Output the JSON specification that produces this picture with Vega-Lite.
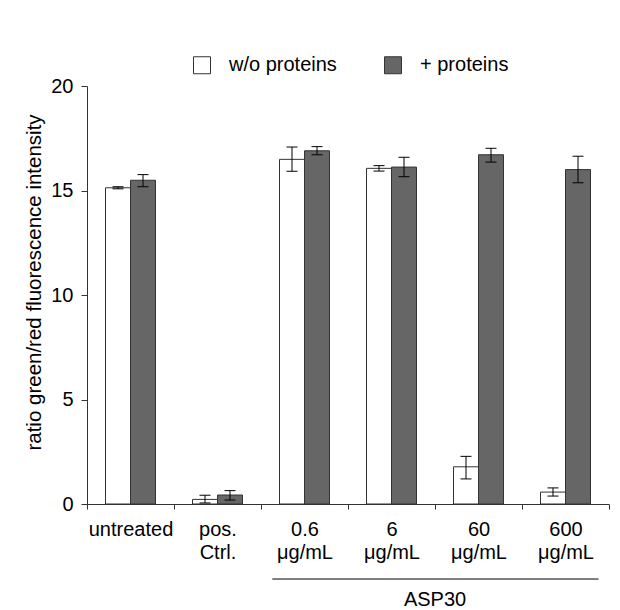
{
  "$schema": "https://vega.github.io/schema/vega-lite/v6.json",
  "autosize": {"type": "none"},
  "padding": {"left": 87, "top": 86, "right": 11, "bottom": 106},
  "width": 522,
  "height": 418,
  "background": "white",
  "config": {"view": {"stroke": null}, "font": "Liberation Sans"},
  "data": {
    "values": [
      {"cat": "untreated", "group": "w/o proteins", "value": 15.13, "lo": 15.08, "hi": 15.18},
      {"cat": "untreated", "group": "+ proteins", "value": 15.49, "lo": 15.18, "hi": 15.76},
      {"cat": "pos. Ctrl.", "group": "w/o proteins", "value": 0.22, "lo": 0.05, "hi": 0.42},
      {"cat": "pos. Ctrl.", "group": "+ proteins", "value": 0.43, "lo": 0.19, "hi": 0.64},
      {"cat": "0.6 μg/mL", "group": "w/o proteins", "value": 16.49, "lo": 15.92, "hi": 17.08},
      {"cat": "0.6 μg/mL", "group": "+ proteins", "value": 16.9, "lo": 16.71, "hi": 17.1},
      {"cat": "6 μg/mL", "group": "w/o proteins", "value": 16.06, "lo": 15.93, "hi": 16.19},
      {"cat": "6 μg/mL", "group": "+ proteins", "value": 16.12, "lo": 15.66, "hi": 16.59},
      {"cat": "60 μg/mL", "group": "w/o proteins", "value": 1.78, "lo": 1.2, "hi": 2.28},
      {"cat": "60 μg/mL", "group": "+ proteins", "value": 16.71, "lo": 16.36, "hi": 17.02},
      {"cat": "600 μg/mL", "group": "w/o proteins", "value": 0.57, "lo": 0.38, "hi": 0.77},
      {"cat": "600 μg/mL", "group": "+ proteins", "value": 16.0, "lo": 15.37, "hi": 16.64}
    ]
  },
  "layer": [
    {
      "mark": {"type": "bar", "stroke": "#333333", "strokeWidth": 1},
      "encoding": {
        "x": {
          "field": "cat", "type": "nominal", "title": null,
          "scale": {"domain": ["untreated", "pos. Ctrl.", "0.6 μg/mL", "6 μg/mL", "60 μg/mL", "600 μg/mL"], "paddingInner": 0, "paddingOuter": 0},
          "axis": {
            "title": null, "labelAngle": 0, "labelExpr": "split(datum.label, ' ')",
            "labelFontSize": 20, "labelColor": "#000000", "labelPadding": 10, "labelLineHeight": 23,
            "tickBand": "extent", "tickSize": 5, "tickColor": "#333333", "domainColor": "#333333", "grid": false
          }
        },
        "xOffset": {
          "field": "group", "type": "nominal",
          "scale": {"domain": ["w/o proteins", "+ proteins"], "paddingOuter": 0.74, "paddingInner": 0}
        },
        "y": {
          "field": "value", "type": "quantitative",
          "scale": {"domain": [0, 20]},
          "axis": {
            "title": "ratio green/red fluorescence intensity", "values": [0, 5, 10, 15, 20], "grid": false,
            "tickSize": 6, "labelPadding": 8, "labelFontSize": 20, "labelColor": "#000000",
            "titleFontSize": 20.5, "titleFontWeight": "normal", "titleColor": "#000000", "titlePadding": 6,
            "titleY": 196,
            "tickColor": "#333333", "domainColor": "#333333"
          }
        },
        "color": {
          "field": "group", "type": "nominal",
          "scale": {"domain": ["w/o proteins", "+ proteins"], "range": ["#ffffff", "#666666"]},
          "legend": {
            "title": null, "orient": "none", "legendX": 105, "legendY": -31, "direction": "horizontal",
            "symbolType": "square", "symbolSize": 289, "symbolStrokeColor": "#333333", "symbolStrokeWidth": 1,
            "symbolOpacity": 1, "labelFontSize": 20, "labelColor": "#000000", "labelOffset": 17,
            "columnPadding": 45, "padding": 0
          }
        }
      }
    },
    {
      "mark": {"type": "rule", "color": "#000000", "strokeWidth": 1},
      "encoding": {
        "x": {"field": "cat", "type": "nominal", "title": null},
        "xOffset": {"field": "group", "type": "nominal"},
        "y": {"field": "lo", "type": "quantitative"},
        "y2": {"field": "hi"}
      }
    },
    {
      "mark": {"type": "tick", "color": "#000000", "thickness": 1, "size": 11, "orient": "horizontal", "opacity": 1},
      "encoding": {
        "x": {"field": "cat", "type": "nominal", "title": null},
        "xOffset": {"field": "group", "type": "nominal"},
        "y": {"field": "lo", "type": "quantitative"}
      }
    },
    {
      "mark": {"type": "tick", "color": "#000000", "thickness": 1, "size": 11, "orient": "horizontal", "opacity": 1},
      "encoding": {
        "x": {"field": "cat", "type": "nominal", "title": null},
        "xOffset": {"field": "group", "type": "nominal"},
        "y": {"field": "hi", "type": "quantitative"}
      }
    },
    {
      "data": {"values": [{}]},
      "mark": {"type": "rule", "color": "#000000", "strokeWidth": 1, "clip": false},
      "encoding": {
        "x": {"datum": "0.6 μg/mL", "bandPosition": 0.13, "title": null},
        "x2": {"datum": "600 μg/mL", "bandPosition": 0.88},
        "y": {"datum": -3.59}
      }
    },
    {
      "data": {"values": [{"label": "ASP30"}]},
      "mark": {"type": "text", "fontSize": 20, "color": "#000000", "baseline": "middle", "align": "center", "clip": false},
      "encoding": {
        "x": {"datum": "60 μg/mL", "bandPosition": 0, "title": null},
        "y": {"datum": -4.59},
        "text": {"field": "label"}
      }
    }
  ]
}
